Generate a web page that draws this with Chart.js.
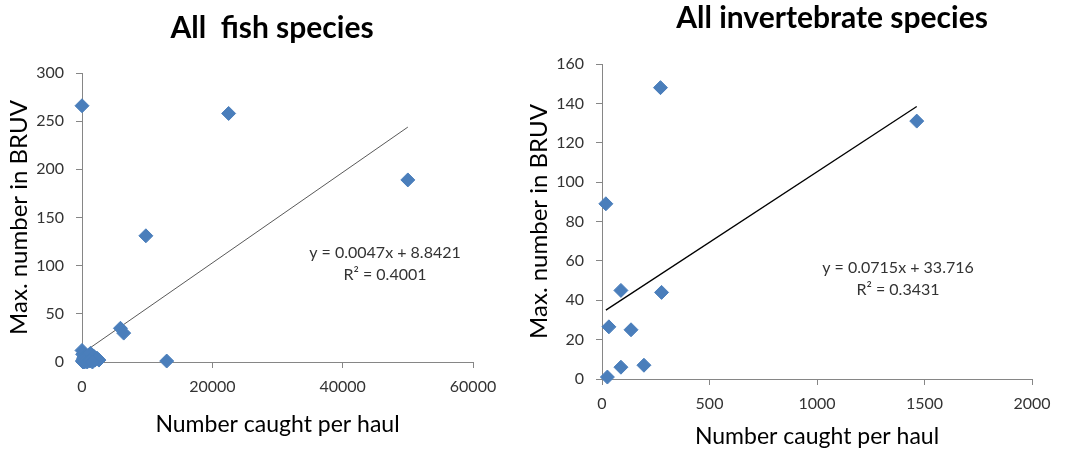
<!DOCTYPE html>
<html>
<head>
<meta charset="utf-8">
<script src="https://cdn.jsdelivr.net/npm/chart.js@4/dist/chart.umd.min.js"></script>
<style>
  body { margin: 0; background: #fff; width: 1076px; height: 452px; overflow: hidden; position: relative; }
  .box { position: absolute; top: 0; height: 452px; }
  #fishBox { left: 0; width: 540px; }
  #invBox { left: 520px; width: 556px; }
</style>
</head>
<body>
<div class="box" id="fishBox"><canvas id="fishChart"></canvas></div>
<div class="box" id="invBox"><canvas id="invChart"></canvas></div>
<script>
// Podaci - ribe
const fishCaught = [0, 22500, 50000, 9800, 5900, 6400, 13000, 0, 100, 200, 300, 500, 700, 900, 1100, 1300, 1500, 1800, 2000, 2300, 2600, 50, 150, 400, 800, 1200, 1600];
const fishBruv   = [266, 258, 189, 131, 35, 30, 1, 12, 8, 3, 5, 1, 6, 2, 4, 9, 3, 6, 2, 4, 2, 1, 0, 0, 0, 1, 0];
const fishTrendX = [0, 50000];
const fishSlope = 0.0047, fishIntercept = 8.8421, fishR2 = 0.4001;
const fishXTicks = [0, 20000, 40000, 60000];
const fishYTicks = [0, 50, 100, 150, 200, 250, 300];

// Podaci - beskralješnjaci
const invCaught = [272, 1464, 18, 88, 277, 32, 135, 88, 195, 25];
const invBruv   = [148, 131, 89, 45, 44, 26.5, 25, 6, 7, 1];
const invTrendX = [18, 1464];
const invSlope = 0.0715, invIntercept = 33.716, invR2 = 0.3431;
const invXTicks = [0, 500, 1000, 1500, 2000];
const invYTicks = [0, 20, 40, 60, 80, 100, 120, 140, 160];

const FONT = 'Lato, "Open Sans", sans-serif';
const BLUE = '#4a7ebb';

function makeChart(id, o) {
    const pts = o.x.map((v, i) => ({ x: v, y: o.y[i] }));
    const trend = o.trendX.map(v => ({ x: v, y: o.slope * v + o.intercept }));

    // naslov i jednadžba pravca
    const textPlugin = {
        id: 'texts',
        afterDraw(chart) {
            const ctx = chart.ctx;
            ctx.save();
            ctx.fillStyle = '#000';
            ctx.textAlign = 'center';
            ctx.textBaseline = 'middle';
            ctx.font = 'bold 30px ' + FONT;
            ctx.fillText(o.title, o.titleX, o.titleY);
            ctx.fillStyle = '#333';
            ctx.font = '16px ' + FONT;
            ctx.fillText('y = ' + o.slope + 'x + ' + o.intercept, o.eqX, o.eqY);
            ctx.fillText('R² = ' + o.r2, o.eqX, o.eqY + 22);
            ctx.restore();
        }
    };

    const axisCommon = {
        type: 'linear',
        border: { color: '#868686', width: 1 },
        grid: { display: true, drawOnChartArea: false, drawTicks: true, tickLength: 6, color: '#868686' },
        ticks: { color: '#333', font: { family: FONT, size: 16 }, padding: 10, callback: v => String(v) },
        title: { display: true, color: '#000', font: { family: FONT, size: 24 } }
    };

    return new Chart(document.getElementById(id), {
        type: 'scatter',
        data: {
            datasets: [{
                data: pts,
                pointStyle: 'rectRot',
                pointRadius: 7,
                backgroundColor: BLUE,
                borderColor: BLUE,
                borderWidth: 1,
                clip: false
            }, {
                type: 'line',
                data: trend,
                showLine: true,
                pointRadius: 0,
                borderColor: o.trendColor,
                borderWidth: o.trendWidth,
                fill: false
            }]
        },
        options: {
            responsive: true,
            maintainAspectRatio: false,
            animation: false,
            layout: { padding: { top: o.top, right: o.right, left: 0, bottom: 0 } },
            plugins: { legend: { display: false }, tooltip: { enabled: false } },
            scales: {
                x: {
                    ...axisCommon,
                    min: o.xTicks[0], max: o.xTicks[o.xTicks.length - 1],
                    ticks: { ...axisCommon.ticks, padding: 9 },
                    afterBuildTicks: s => { s.ticks = o.xTicks.map(v => ({ value: v })); },
                    afterFit: s => { s.height = o.xAxisH; },
                    title: { ...axisCommon.title, font: { family: FONT, size: 23 }, text: 'Number caught per haul', padding: { top: 0, bottom: o.xTitlePad } }
                },
                y: {
                    ...axisCommon,
                    min: o.yTicks[0], max: o.yTicks[o.yTicks.length - 1],
                    ticks: { ...axisCommon.ticks, padding: 12 },
                    afterBuildTicks: s => { s.ticks = o.yTicks.map(v => ({ value: v })); },
                    afterFit: s => { s.width = o.yAxisW; },
                    title: { ...axisCommon.title, text: 'Max. number in BRUV', padding: { top: 5, bottom: 0 } }
                }
            }
        },
        plugins: [textPlugin]
    });
}

makeChart('fishChart', {
    x: fishCaught, y: fishBruv, trendX: fishTrendX,
    slope: fishSlope, intercept: fishIntercept, r2: fishR2,
    xTicks: fishXTicks, yTicks: fishYTicks,
    title: 'All  fish species', titleX: 272, titleY: 28,
    eqX: 385, eqY: 253,
    trendColor: '#595959', trendWidth: 1,
    top: 73, right: 67, xAxisH: 90, yAxisW: 82, xTitlePad: 14
});

makeChart('invChart', {
    x: invCaught, y: invBruv, trendX: invTrendX,
    slope: invSlope, intercept: invIntercept, r2: invR2,
    xTicks: invXTicks, yTicks: invYTicks,
    title: 'All invertebrate species', titleX: 312, titleY: 18,
    eqX: 378, eqY: 268,
    trendColor: '#000', trendWidth: 1.3,
    top: 64, right: 44, xAxisH: 73, yAxisW: 82, xTitlePad: 2
});
</script>
</body>
</html>
